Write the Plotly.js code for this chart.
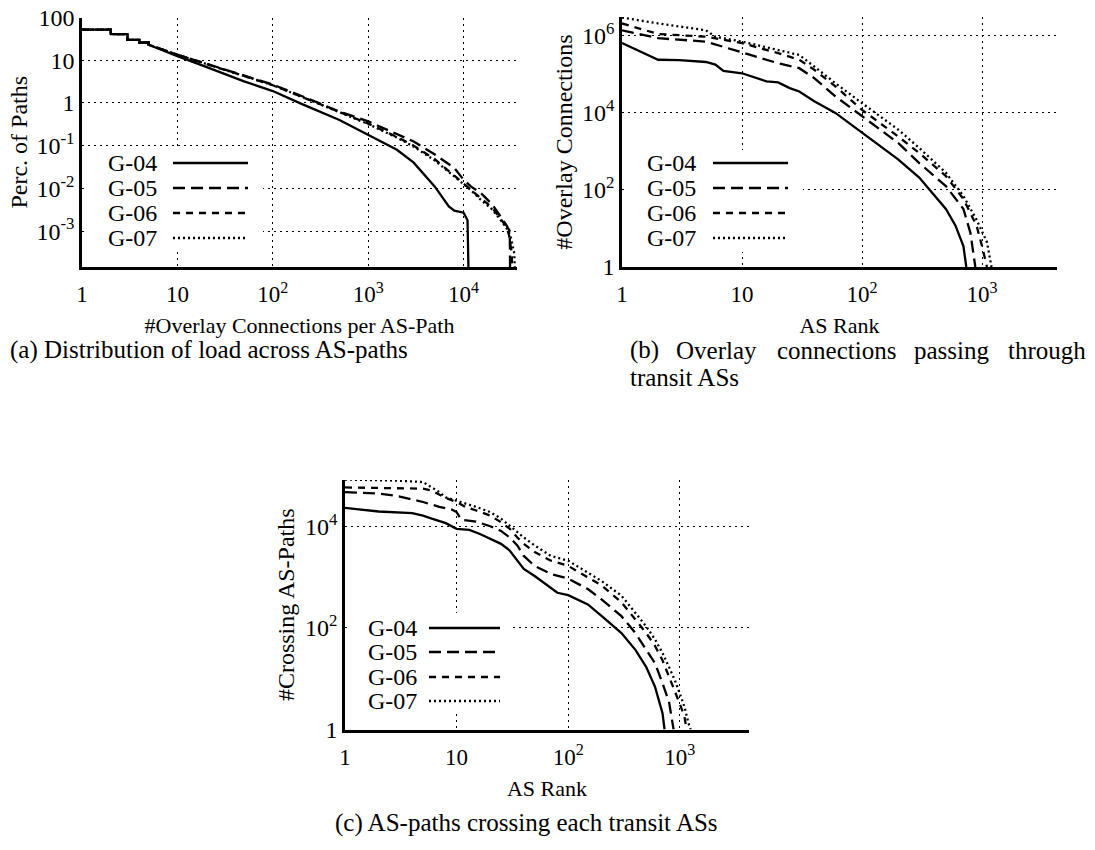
<!DOCTYPE html>
<html><head><meta charset="utf-8">
<script src="https://cdn.plot.ly/plotly-3.0.1.min.js"></script>
<style>html,body{margin:0;padding:0;background:#fff}#chart{width:1095px;height:850px}</style>
</head><body><div id="chart"></div>
<script>
const seriesNames = ['G-04', 'G-05', 'G-06', 'G-07'];

// Panel (a): % of paths vs #overlay connections per AS-path
const aX04 = [1,2,2,3,3,4,4,5,5,7,10,20,50,100,200,500,1000,2000,3000,5000,7000,8000,10000,11000,11500];
const aY04 = [52,52,41,41,30,30,26,26,23,17,12.5,7.0,3.2,1.9,0.95,0.40,0.18,0.08,0.04,0.011,0.0038,0.003,0.0027,0.0018,0.00001];
const aX05 = [1,2,2,3,3,4,4,5,5,7,10,20,50,100,200,500,1000,2000,3000,5000,8000,10000,12000,15000,20000,28000,30500,31000];
const aY05 = [52,52,41,41,30,30,26,26,23,17.5,13.5,8.3,4.3,2.7,1.45,0.63,0.37,0.19,0.125,0.062,0.03,0.016,0.011,0.008,0.0042,0.0014,0.001,0.00001];
const aX06 = [1,2,2,3,3,4,4,5,5,7,10,20,50,100,200,500,1000,2000,3000,5000,8000,10000,12000,15000,20000,25000,28000,30000,32000,33000];
const aY06 = [52,52,41,41,30,30,26,26,23,17.5,13.5,8.2,4.2,2.6,1.4,0.6,0.33,0.16,0.1,0.048,0.02,0.013,0.0095,0.006,0.0035,0.0018,0.0013,0.0008,0.0003,0.00001];
const aX07 = [1,2,2,3,3,4,4,5,5,7,10,20,50,100,200,500,1000,2000,3000,5000,8000,10000,12000,15000,20000,25000,28000,31000,34000,36000];
const aY07 = [52,52,41,41,30,30,26,26,23,17.5,13.5,8.2,4.2,2.6,1.4,0.6,0.32,0.155,0.095,0.045,0.019,0.012,0.009,0.0055,0.0032,0.0017,0.0012,0.0008,0.0003,0.00001];

// Panel (b): overlay connections through each transit AS, by AS rank
const bX04 = [1,2,3,5,6,7,10,13,16,20,25,30,40,60,100,200,300,400,500,600,700,740];
const bY04 = [650000,240000,235000,210000,180000,123000,107000,80000,66000,62000,44000,36000,20000,10000,3100,620,210,70,32,12,3.5,1];
const bX05 = [1,2,5,10,20,30,40,60,100,200,300,500,700,800,880];
const bY05 = [1400000,870000,710000,370000,195000,145000,80000,27000,8100,1660,500,126,32,7.8,1];
const bX06 = [1,2,5,10,20,30,40,60,100,200,300,500,700,900,1000,1100];
const bY06 = [2100000,1120000,950000,650000,355000,240000,132000,49000,12000,2450,910,230,58,12,3.5,1];
const bX07 = [1,2,5,6,10,20,30,40,60,100,200,300,500,700,900,1100,1200];
const bY07 = [3000000,2100000,1400000,950000,710000,430000,320000,160000,59000,18000,3700,1230,280,70,17,4.4,1];

// Panel (c): AS-paths crossing each transit AS, by AS rank
const cX04 = [1,2,4,5,6,7,8,10,13,16,20,25,30,35,40,50,60,80,100,150,200,300,400,500,600,700,730];
const cY04 = [23000,19500,18200,16200,14100,12600,11500,8900,8500,7100,5600,4500,3300,2100,1450,1050,790,490,440,290,170,79,37,17,6.9,2.1,1];
const cX05 = [1,2,3,5,7,9,10,11,15,20,25,30,35,40,50,70,100,150,200,300,400,500,600,700,800,880];
const cY05 = [47000,44000,39000,30000,24000,21400,19000,13500,12300,10000,8100,6000,4200,2600,1660,1150,930,580,360,170,79,37,20,8.1,3.5,1];
const cX06 = [1,2,5,6,7,8,10,12,15,20,25,30,35,40,50,70,100,150,200,300,400,500,600,700,800,900,1000,1100,1150];
const cY06 = [58000,57000,55000,50000,42000,36000,30000,24000,20400,16200,12000,8900,6000,4500,3100,2100,1660,980,680,320,148,79,44,23,11,6,3.2,1.8,1];
const cX07 = [1,3,5,6,7,8,10,15,20,25,30,40,50,70,100,150,200,300,400,500,600,700,800,900,1000,1100,1200,1250];
const cY07 = [83000,79000,74000,59000,47000,37000,32000,24000,19000,14100,10200,6000,4200,2600,2100,1230,830,430,200,107,59,32,17,9.5,5.1,2.8,1.3,1];

// Tick labels
const aXTickVals = [1,10,100,1000,10000];
const aXTickText = ['1','10','10<sup>2</sup>','10<sup>3</sup>','10<sup>4</sup>'];
const aYTickVals = [100,10,1,0.1,0.01,0.001];
const aYTickText = ['100','10','1','10<sup>-1</sup>','10<sup>-2</sup>','10<sup>-3</sup>'];
const rankTickVals = [1,10,100,1000];
const rankTickText = ['1','10','10<sup>2</sup>','10<sup>3</sup>'];
const bYTickVals = [1,100,10000,1000000];
const bYTickText = ['1','10<sup>2</sup>','10<sup>4</sup>','10<sup>6</sup>'];
const cYTickVals = [1,100,10000];
const cYTickText = ['1','10<sup>2</sup>','10<sup>4</sup>'];

// ---------- styling ----------
const W = 1095, H = 850;
const px = v => v / W;
const py = v => 1 - v / H;
const FONT = 'Liberation Serif, Times New Roman, serif';
const dashes = ['solid', '12px,6px', '7px,6px', '2px,3px'];
const LW = 2.3;

const panels = [
  {xs:[aX04,aX05,aX06,aX07], ys:[aY04,aY05,aY06,aY07], xa:'x', ya:'y'},
  {xs:[bX04,bX05,bX06,bX07], ys:[bY04,bY05,bY06,bY07], xa:'x2', ya:'y2'},
  {xs:[cX04,cX05,cX06,cX07], ys:[cY04,cY05,cY06,cY07], xa:'x3', ya:'y3'}
];
const traces = [];
panels.forEach(p => {
  for (let i = 0; i < 4; i++) {
    traces.push({type:'scatter', mode:'lines', x:p.xs[i], y:p.ys[i], xaxis:p.xa, yaxis:p.ya,
      name:seriesNames[i], showlegend:false,
      line:{color:'#000', width:LW, dash:dashes[i]}});
  }
});

function axis(isX, domain, range, tv, tt, title, standoff, anchor) {
  return {
    type:'log', domain:domain, range:range, tickvals:tv, ticktext:tt, anchor:anchor,
    showline:true, linewidth:2.5, linecolor:'#000', mirror:false,
    showgrid:true, gridcolor:'#000', gridwidth:1, griddash:'2px,4px',
    zeroline:false, ticks:'', ticklabelstandoff: isX ? 5 : 0,
    tickfont:{family:FONT, size: isX ? 23 : 24, color:'#000'},
    title:{text:title, font:{family:FONT, size: isX ? 22 : 24, color:'#000'}, standoff:standoff}
  };
}

const layout = {
  width:W, height:H, margin:{l:0,r:0,t:0,b:0}, paper_bgcolor:'#fff', plot_bgcolor:'rgba(0,0,0,0)',
  showlegend:false,
  xaxis: axis(true, [px(82),px(517)], [0,4.56], aXTickVals, aXTickText, '#Overlay Connections per AS-Path', 12, 'y'),
  yaxis: axis(false, [py(267),py(17.5)], [-3.84,2], aYTickVals, aYTickText, 'Perc. of Paths', 3, 'x'),
  xaxis2: axis(true, [px(622),px(1057)], [0,3.625], rankTickVals, rankTickText, 'AS Rank', 12, 'y2'),
  yaxis2: axis(false, [py(267),py(17)], [0,6.49], bYTickVals, bYTickText, '#Overlay Connections', 3, 'x2'),
  xaxis3: axis(true, [px(345),px(749)], [0,3.62], rankTickVals, rankTickText, 'AS Rank', 12, 'y3'),
  yaxis3: axis(false, [py(729.5),py(480)], [0,4.91], cYTickVals, cYTickText, '#Crossing AS-Paths', 4, 'x3'),
  shapes:[], annotations:[]
};

// manual legends (text left, line sample right), on white boxes
const legends = [
  {box:[85,150,263,252], tx:106, l0:173, l1:248, rows:[163,188,213,238]},
  {box:[625,150,803,252], tx:645, l0:713, l1:788, rows:[163,188,213,238]},
  {box:[348,613,513,714], tx:366, l0:429, l1:500, rows:[628,652,677,701]}
];
legends.forEach(L => {
  layout.shapes.push({type:'rect', xref:'paper', yref:'paper', layer:'above',
    x0:px(L.box[0]), x1:px(L.box[2]), y0:py(L.box[3]), y1:py(L.box[1]),
    fillcolor:'#fff', line:{width:0}});
  for (let i = 0; i < 4; i++) {
    layout.shapes.push({type:'line', xref:'paper', yref:'paper', layer:'above',
      x0:px(L.l0), x1:px(L.l1), y0:py(L.rows[i]), y1:py(L.rows[i]),
      line:{color:'#000', width:LW, dash:dashes[i]}});
    layout.annotations.push({xref:'paper', yref:'paper', x:px(L.tx), y:py(L.rows[i]),
      xanchor:'left', yanchor:'middle', showarrow:false, text:seriesNames[i],
      font:{family:FONT, size:24, color:'#000'}});
  }
});

// captions
const CAPF = {family:'Liberation Serif, serif', size:25, color:'#000'};
function cap(text, x, y, anchor) {
  layout.annotations.push({xref:'paper', yref:'paper', x:px(x), y:py(y), xanchor:anchor||'left',
    yanchor:'middle', showarrow:false, text:text, font:CAPF});
}
cap('(a) Distribution of load across AS-paths', 8, 350);
cap('(b)', 628, 350);
cap('Overlay', 716, 350, 'center');
cap('connections', 836, 350, 'center');
cap('passing', 952, 350, 'center');
cap('through', 1088, 350, 'right');
cap('transit ASs', 628, 377);
cap('(c) AS-paths crossing each transit ASs', 526, 823, 'center');

Plotly.newPlot('chart', traces, layout, {displayModeBar:false});
</script>
</body></html>
